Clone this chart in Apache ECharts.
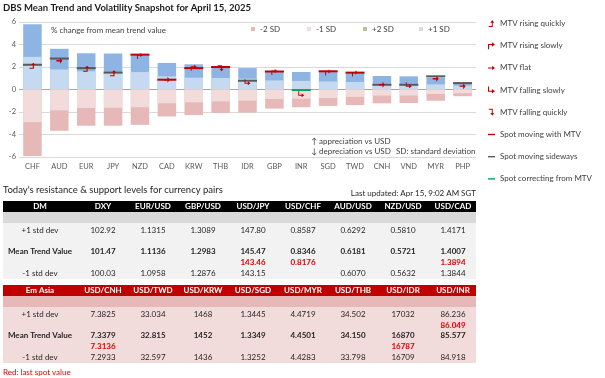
<!DOCTYPE html>
<html><head><meta charset="utf-8">
<script src="https://cdn.jsdelivr.net/npm/echarts@6/dist/echarts.min.js"></script>
<style>html,body{margin:0;padding:0;background:#fff}#c{width:605px;height:378px}</style>
</head><body><div id="c"></div>
<script>
// ---------- chart data ----------
const categories = ['CHF','AUD','EUR','JPY','NZD','CAD','KRW','THB','IDR','GBP','INR','SGD','TWD','CNH','VND','MYR','PHP'];
const plus2SD  = [5.8, 3.62, 3.22, 3.2, 3.12, 2.36, 2.24, 2.07, 1.9, 1.64, 1.56, 1.62, 1.52, 1.2, 1.17, 1.05, 0.6];
const plus1SD  = [2.9, 1.78, 1.62, 1.55, 1.55, 1.17, 1.05, 1.02, 0.96, 0.81, 0.76, 0.72, 0.67, 0.51, 0.5, 0.46, 0.35];
const minus1SD = [-2.9, -1.85, -1.64, -1.62, -1.57, -1.23, -1.14, -1.05, -0.99, -0.84, -0.82, -0.75, -0.65, -0.54, -0.54, -0.4, -0.33];
const minus2SD = [-5.9, -3.67, -3.22, -3.22, -3.14, -2.4, -2.27, -2.09, -2.04, -1.7, -1.58, -1.46, -1.38, -1.23, -1.2, -1.0, -0.6];
const spotValue = [2.2, 2.75, 1.9, 1.5, 3.1, 0.87, 1.9, 2.0, 0.78, 1.6, -0.05, 1.62, 1.5, 0.42, 0.42, 1.17, 0.57];
const spotKind  = ['Spot moving sideways','Spot moving sideways','Spot moving sideways','Spot moving sideways','Spot moving with MTV','Spot moving with MTV','Spot moving with MTV','Spot moving with MTV','Spot moving sideways','Spot moving with MTV','Spot correcting from MTV','Spot moving with MTV','Spot moving with MTV','Spot moving sideways','Spot moving sideways','Spot moving sideways','Spot moving sideways'];
const mtvValue = [2.12, 2.55, 1.85, 1.45, 2.98, 0.86, 1.93, 1.9, 0.64, 1.56, -0.42, 1.52, 1.42, 0.42, 0.37, 0.96, 0.3];
const mtvKind  = ['MTV rising quickly','MTV flat','MTV rising quickly','MTV rising quickly','MTV rising slowly','MTV flat','MTV rising slowly','MTV falling quickly','MTV falling slowly','MTV rising slowly','MTV falling slowly','MTV rising slowly','MTV rising slowly','MTV flat','MTV falling slowly','MTV flat','MTV flat'];
const yTickMin = -6, yTickMax = 6, yTickStep = 2;

// ---------- table data ----------
const dmHeaders = ['DM','DXY','EUR/USD','GBP/USD','USD/JPY','USD/CHF','AUD/USD','NZD/USD','USD/CAD'];
const dmUpper = ['102.92','1.1315','1.3089','147.80','0.8587','0.6292','0.5810','1.4171'];
const dmMean  = ['101.47','1.1136','1.2983','145.47','0.8346','0.6181','0.5721','1.4007'];
const dmSpot  = [null,null,null,'143.46','0.8176',null,null,'1.3894'];
const dmLower = ['100.03','1.0958','1.2876','143.15',null,'0.6070','0.5632','1.3844'];
const emHeaders = ['Em Asia','USD/CNH','USD/TWD','USD/KRW','USD/SGD','USD/MYR','USD/THB','USD/IDR','USD/INR'];
const emUpper = ['7.3825','33.034','1468','1.3445','4.4719','34.502','17032','86.236'];
const emMean  = ['7.3379','32.815','1452','1.3349','4.4501','34.150','16870','85.577'];
const emSpot  = ['7.3136',null,null,null,null,null,'16787','86.049'];
const emLower = ['7.2933','32.597','1436','1.3252','4.4283','33.798','16709','84.918'];
const rowLabels = ['+1 std dev','Mean Trend Value','-1 std dev'];

// ---------- styling ----------
const FONT = '"Liberation Sans Narrow", Lato, sans-serif';
const mtvKinds = ['MTV rising quickly','MTV rising slowly','MTV flat','MTV falling slowly','MTV falling quickly'];
const mtvPath = {
  'MTV rising quickly': 'path://M0,8.6L4.3,8.6L4.3,4L2.3,4L5,0L7.7,4L5.7,4L5.7,10L0,10Z',
  'MTV rising slowly': 'path://M1,10L1,3.3L6,3.3L6,1L10,4L6,7L6,4.7L2.4,4.7L2.4,10Z',
  'MTV flat': 'path://M0,4.3L6,4.3L6,2L10,5L6,8L6,5.7L0,5.7Z',
  'MTV falling slowly': 'path://M1,0L2.4,0L2.4,5.3L6,5.3L6,3L10,6L6,9L6,6.7L1,6.7Z',
  'MTV falling quickly': 'path://M0,0L5.7,0L5.7,6L7.7,6L5,10L2.3,6L4.3,6L4.3,1.4L0,1.4Z'
};
const spotKinds = ['Spot moving with MTV','Spot moving sideways','Spot correcting from MTV'];
const spotColor = {'Spot moving with MTV':'#c00000','Spot moving sideways':'#595959','Spot correcting from MTV':'#00a651'};
const dashIcon = 'path://M0,0M0,4L10,4L10,6L0,6ZM10,10';

const series = [
  {name:'+2 SD', type:'bar', data:plus2SD, barWidth:18.5, barGap:'-100%', itemStyle:{color:'#8db4e2'}, silent:true, z:2},
  {name:'+1 SD', type:'bar', data:plus1SD, barWidth:18.5, barGap:'-100%', itemStyle:{color:'#c5d9f1'}, silent:true, z:2},
  {name:'-2 SD', type:'bar', data:minus2SD, barWidth:18.5, barGap:'-100%', itemStyle:{color:'#e6b9b8'}, silent:true, z:2},
  {name:'-1 SD', type:'bar', data:minus1SD, barWidth:18.5, barGap:'-100%', itemStyle:{color:'#f2dcdb'}, silent:true, z:2}
];
spotKinds.forEach(k => {
  series.push({name:k, type:'scatter', symbol:'rect', symbolSize:[19,2], z:3, silent:true,
    itemStyle:{color:spotColor[k], opacity:1},
    data: categories.map((c,i)=> spotKind[i]===k ? [c, spotValue[i]] : null).filter(d=>d)});
});
mtvKinds.forEach(k => {
  series.push({name:k, type:'scatter', symbol:mtvPath[k], symbolSize:[6,6], z:4, silent:true,
    itemStyle:{color:'#c00000', opacity:1},
    data: categories.map((c,i)=> mtvKind[i]===k ? [c, mtvValue[i]] : null).filter(d=>d)});
});

// ---------- graphic texts / table ----------
const G = [];
function T(x, y, s, o) {
  G.push({type:'text', x:x, y:y, silent:true, z:10,
    style:Object.assign({text:s, fill:'#262626', fontSize:8, fontFamily:FONT, align:'center', verticalAlign:'middle'}, o||{})});
}
function R(x, y, w, h, fill) {
  G.push({type:'rect', silent:true, z:5, shape:{x:x, y:y, width:w, height:h}, style:{fill:fill}});
}
T(3, 8, 'DBS Mean Trend and Volatility Snapshot for April 15, 2025', {align:'left', fontSize:9.5, fontWeight:'bold', fill:'#1a1a1a'});
T(51, 30, '% change from mean trend value', {align:'left', fill:'#404040'});
T(311, 141, '\u2191 appreciation vs USD', {align:'left', fill:'#404040'});
T(311, 151, '\u2193 depreciation vs USD', {align:'left', fill:'#404040'});
T(396, 151, 'SD: standard deviation', {align:'left', fill:'#404040'});
T(3, 190, "Today's resistance & support levels for currency pairs", {align:'left', fontSize:9.5, fill:'#262626'});
T(476, 193, 'Last updated: Apr 15, 9:02 AM SGT', {align:'right', fill:'#262626'});
T(3, 372, 'Red: last spot value', {align:'left', fill:'#e00000'});

const colX = j => 103 + 50*j;
function block(y0, headers, upper, mean, spot, lower, headFill, subFill, bodyFill) {
  R(3, y0, 473, 11, headFill);
  R(3, y0+11, 473, 11, subFill);
  R(3, y0+22, 473, 56, bodyFill);
  T(40, y0+5.5, headers[0], {fill:'#ffffff', fontWeight:'bold'});
  headers.slice(1).forEach((h,j)=> T(colX(j), y0+5.5, h, {fill:'#ffffff', fontWeight:'bold'}));
  T(40, y0+29, rowLabels[0]);
  T(40, y0+50.5, rowLabels[1], {fontWeight:'bold'});
  T(40, y0+72.5, rowLabels[2]);
  upper.forEach((v,j)=> v && T(colX(j), y0+29, v));
  mean.forEach((v,j)=> v && T(colX(j), y0+50.5, v, {fontWeight:'bold'}));
  lower.forEach((v,j)=> v && T(colX(j), y0+72.5, v));
  spot.forEach((v,j)=> {
    if (!v) return;
    const above = parseFloat(v) > parseFloat(mean[j]);
    T(colX(j), above ? y0+40 : y0+61.5, v, {fill:'#e00000', fontWeight:'bold'});
  });
}
block(201, dmHeaders, dmUpper, dmMean, dmSpot, dmLower, '#000000', '#d9d9d9', '#f2f2f2');
block(285, emHeaders, emUpper, emMean, emSpot, emLower, '#c00000', '#e6b8b7', '#f2dcdb');

const sdLegend = (name, left, color) => ({
  left:left, top:25, padding:0, itemWidth:4, itemHeight:4, selectedMode:false,
  textStyle:{fontSize:8, color:'#404040', fontFamily:FONT},
  data:[{name:name, icon:'rect', itemStyle:{color:color}}]
});

const option = {
  animation:false,
  textStyle:{fontFamily:FONT},
  grid:{left:19, right:129, top:22, bottom:221, containLabel:false, outerBoundsMode:'none'},
  xAxis:{type:'category', data:categories, axisTick:{show:false}, axisLine:{show:false, onZero:false},
    axisLabel:{fontSize:7.5, color:'#595959', margin:6, interval:0, fontFamily:FONT}},
  yAxis:{type:'value', min:yTickMin, max:yTickMax, interval:yTickStep,
    axisLine:{show:false}, axisTick:{show:false},
    axisLabel:{fontSize:7.5, color:'#595959', margin:3, fontFamily:FONT},
    splitLine:{lineStyle:{width:1, color:['#d9d9d9','#d9d9d9','#d9d9d9','#a6a6a6','#d9d9d9','#d9d9d9','#d9d9d9']}}},
  legend:[
    sdLegend('-2 SD', 251, '#e6b9b8'),
    sdLegend('-1 SD', 307, '#f2dcdb'),
    sdLegend('+2 SD', 363, '#c4bd97'),
    sdLegend('+1 SD', 419, '#d9d9d9'),
    {orient:'vertical', left:488, top:18.5, padding:0, itemGap:12.2, itemWidth:7, itemHeight:7, selectedMode:false,
     textStyle:{fontSize:8, color:'#404040', fontFamily:FONT, lineHeight:10},
     data: mtvKinds.map(k=>({name:k, icon:mtvPath[k], itemStyle:{color:'#c00000'}}))
       .concat(spotKinds.map(k=>({name:k, icon:dashIcon, itemStyle:{color:spotColor[k]}})))}
  ],
  series:series,
  graphic:{elements:G}
};
const chart = echarts.init(document.getElementById('c'), null, {renderer:'canvas'});
chart.setOption(option);
</script></body></html>
